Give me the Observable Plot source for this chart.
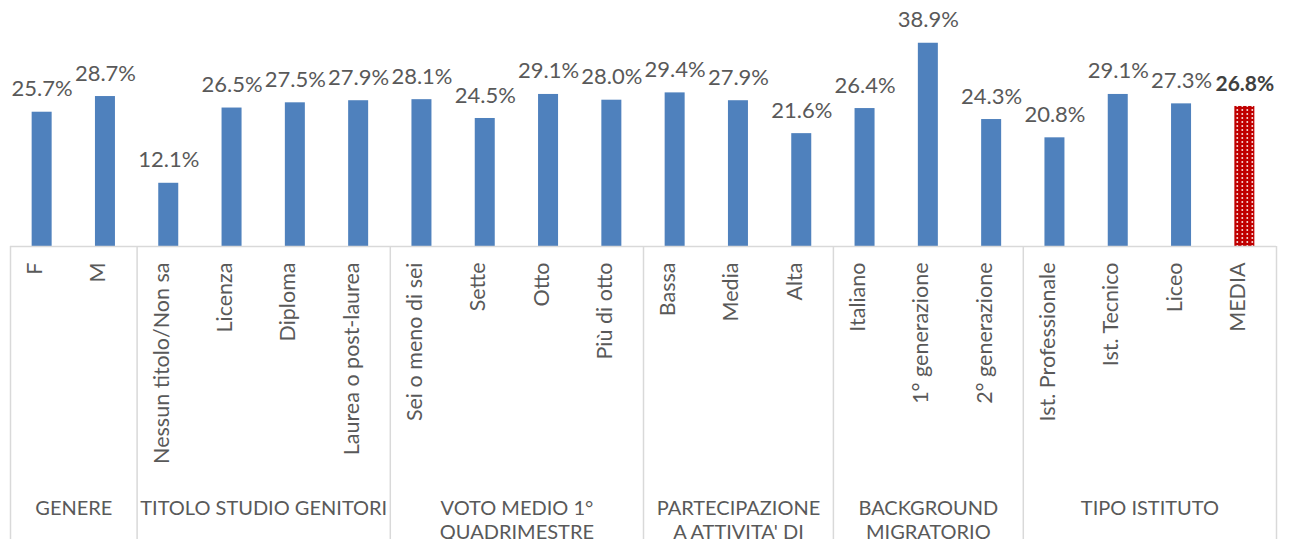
<!DOCTYPE html>
<html>
<head>
<meta charset="utf-8">
<script src="https://cdn.jsdelivr.net/npm/d3@7"></script>
<script src="https://cdn.jsdelivr.net/npm/@observablehq/plot@0.6"></script>
<style>
  html, body { margin: 0; padding: 0; background: #fff; overflow: hidden; }
</style>
</head>
<body>
<div id="chart"></div>
<script>
const categories = [
  "F", "M",
  "Nessun titolo/Non sa", "Licenza", "Diploma", "Laurea o post-laurea",
  "Sei o meno di sei", "Sette", "Otto", "Più di otto",
  "Bassa", "Media", "Alta",
  "Italiano", "1° generazione", "2° generazione",
  "Ist. Professionale", "Ist. Tecnico", "Liceo", "MEDIA"
];
const values = [
  25.7, 28.7,
  12.1, 26.5, 27.5, 27.9,
  28.1, 24.5, 29.1, 28.0,
  29.4, 27.9, 21.6,
  26.4, 38.9, 24.3,
  20.8, 29.1, 27.3, 26.8
];
const groupLabels = [
  "GENERE",
  "TITOLO STUDIO GENITORI",
  "VOTO MEDIO 1°\nQUADRIMESTRE",
  "PARTECIPAZIONE\nA ATTIVITA' DI",
  "BACKGROUND\nMIGRATORIO",
  "TIPO ISTITUTO"
];
const groupSizes = [2, 4, 4, 3, 3, 4];
const averageLabel = "MEDIA";

const data = categories.map((c, i) => ({cat: c, value: values[i], i, avg: c === averageLabel}));
const bounds = [0];
groupSizes.forEach(s => bounds.push(bounds[bounds.length - 1] + s));
const groups = groupLabels.map((g, k) => ({label: g, start: bounds[k], end: bounds[k + 1]}));

const W = 1290, H = 539;
const mTop = 37, mBottom = 293, mLeft = 10, mRight = 14;
const step = (W - mLeft - mRight) / categories.length;
const inset = (step - 20) / 2;
const txt = "#595959";

const svg = Plot.plot({
  width: W,
  height: H,
  marginTop: mTop,
  marginBottom: mBottom,
  marginLeft: mLeft,
  marginRight: mRight,
  style: {background: "#fff", fontFamily: "Lato, 'Open Sans', sans-serif", overflow: "visible"},
  x: {domain: [0, categories.length], axis: null},
  y: {domain: [0, 40], axis: null},
  marks: [
    Plot.rectY(data.filter(d => !d.avg), {x1: d => d.i, x2: d => d.i + 1, y1: 0, y2: "value", insetLeft: inset, insetRight: inset, fill: "#4F81BD"}),
    Plot.rectY(data.filter(d => d.avg), {x1: d => d.i, x2: d => d.i + 1, y1: 0, y2: "value", insetLeft: inset, insetRight: inset, fill: "url(#dots)"}),
    Plot.ruleY([0], {stroke: "#D9D9D9", strokeWidth: 1.5}),
    Plot.ruleX(bounds, {x: d => d, y1: 0, y2: 0, insetBottom: -mBottom, stroke: "#D9D9D9", strokeWidth: 1.5}),
    Plot.text(data.filter(d => !d.avg), {x: d => d.i + 0.5, y: "value", text: d => d.value.toFixed(1) + "%", dy: -23, fontSize: 22, fill: txt}),
    Plot.text(data.filter(d => d.avg), {x: d => d.i + 0.5, y: "value", text: d => d.value.toFixed(1) + "%", dy: -22, fontSize: 21, fontWeight: "bold", fill: "#404040"}),
    Plot.text(data, {x: d => d.i + 0.5, text: "cat", frameAnchor: "bottom", rotate: -90, textAnchor: "end", dy: 16, fontSize: 21.5, fill: txt}),
    Plot.text(groups, {x: d => (d.start + d.end) / 2, text: "label", frameAnchor: "bottom", lineAnchor: "top", dy: 251, fontSize: 20, lineHeight: 1.2, fill: txt})
  ]
});

d3.select(svg).insert("defs", ":first-child").html(
  '<pattern id="dots" width="5" height="4" patternUnits="userSpaceOnUse">' +
  '<rect width="5" height="4" fill="#C00000"></rect>' +
  '<rect x="1.5" y="1.2" width="1.6" height="1.6" fill="#ffffff"></rect>' +
  '</pattern>'
);

document.getElementById("chart").appendChild(svg);
</script>
</body>
</html>
